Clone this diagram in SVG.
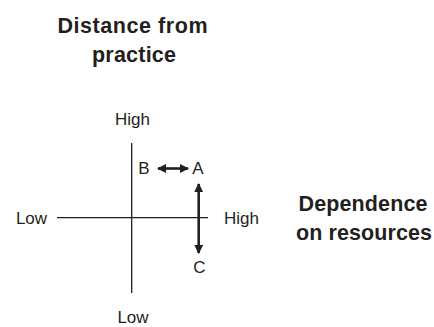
<svg xmlns="http://www.w3.org/2000/svg" width="434" height="327" viewBox="0 0 434 327">
<style>
.t{font-family:"Liberation Sans",Arial,sans-serif;fill:#231f20}
.b{font-weight:bold;font-size:21.5px}
.s{font-size:17px}
.ax{stroke:#231f20;stroke-width:1.3;fill:none}
.ar{stroke:#231f20;stroke-width:2.6;fill:none}
</style>
<defs>
<marker id="ah" viewBox="0 0 10 10" refX="9" refY="5" markerWidth="3.6" markerHeight="3.6" orient="auto-start-reverse" markerUnits="strokeWidth">
<path d="M0,0 L10,5 L0,10 Z" fill="#231f20"/>
</marker>
</defs>
<rect width="434" height="327" fill="#ffffff"/>
<g id="title">
<text class="t b" x="132.5" y="33" text-anchor="middle" textLength="150">Distance from</text>
<text class="t b" x="134" y="61.5" text-anchor="middle" textLength="84">practice</text>
</g>
<g id="dependence">
<text class="t b" x="363" y="211" text-anchor="middle" textLength="129">Dependence</text>
<text class="t b" x="364" y="240" text-anchor="middle" textLength="136">on resources</text>
</g>
<g id="axes">
<line class="ax" x1="131.7" y1="143" x2="131.7" y2="293"/>
<line class="ax" x1="57" y1="217.7" x2="208" y2="217.7"/>
</g>
<g id="axis-labels">
<text class="t s" x="132.5" y="125" text-anchor="middle">High</text>
<text class="t s" x="31.5" y="224" text-anchor="middle">Low</text>
<text class="t s" x="241.5" y="224" text-anchor="middle">High</text>
<text class="t s" x="133" y="323" text-anchor="middle">Low</text>
</g>
<g id="node-B"><text class="t s" x="144" y="173.5" text-anchor="middle">B</text></g>
<g id="node-A"><text class="t s" x="198" y="173.5" text-anchor="middle">A</text></g>
<g id="node-C"><text class="t s" x="199.5" y="272.5" text-anchor="middle">C</text></g>
<g id="connectors">
<line class="ar" x1="158" y1="168.5" x2="188" y2="168.5" marker-start="url(#ah)" marker-end="url(#ah)"/>
<line class="ar" x1="198.7" y1="184" x2="198.7" y2="253" marker-start="url(#ah)" marker-end="url(#ah)"/>
</g>
</svg>
